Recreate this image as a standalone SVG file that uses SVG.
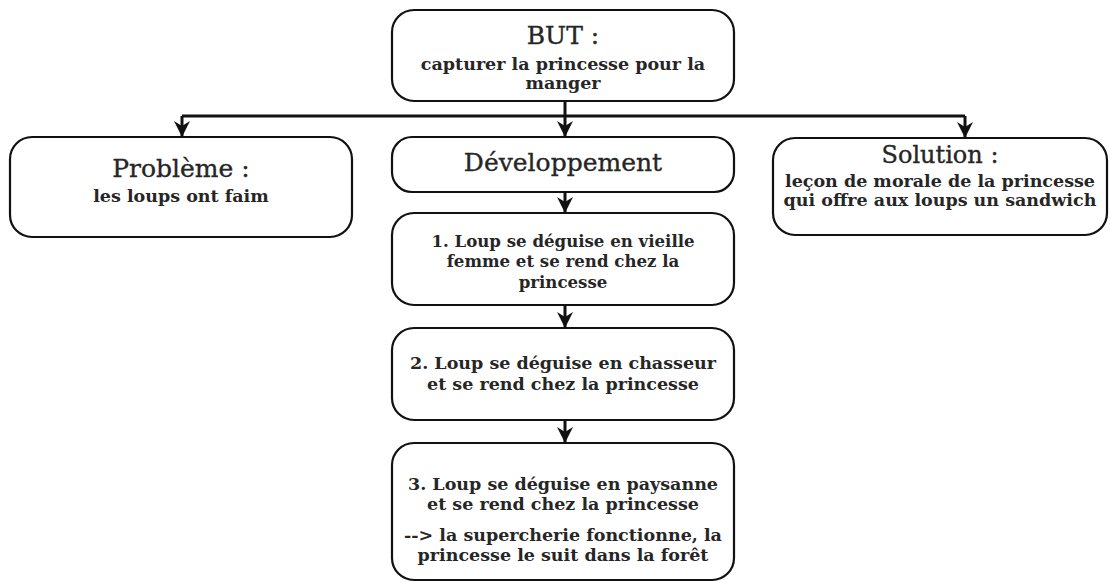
<svg xmlns="http://www.w3.org/2000/svg" width="1110" height="582" viewBox="0 0 1110 582">
<defs>
<marker id="arr" viewBox="0 0 16 16" refX="15" refY="8" markerWidth="16" markerHeight="16" markerUnits="userSpaceOnUse" orient="auto">
<path d="M0,0 L16,8 L0,16 L5,8 z" fill="#111"/>
</marker>
</defs>
<style>
.box{fill:#fff;stroke:#111;stroke-width:2.2}
.t{font-family:"DejaVu Serif","Liberation Serif",serif;fill:#262626;stroke:#262626;stroke-width:0.35;text-anchor:middle;font-size:25px}
.s{font-family:"DejaVu Serif","Liberation Serif",serif;fill:#262626;text-anchor:middle;font-size:17.5px;font-weight:bold}
.s1{font-size:16.6px}
.c{fill:none;stroke:#111;stroke-width:3}
</style>
<rect width="1110" height="582" fill="#fff"/>
<g id="connectors">
<path class="c" d="M182,116 H965"/>
<path class="c" d="M565,101 V136" marker-end="url(#arr)"/>
<path class="c" d="M182,116 V136" marker-end="url(#arr)"/>
<path class="c" d="M965,116 V137" marker-end="url(#arr)"/>
<path class="c" d="M565,192 V212" marker-end="url(#arr)"/>
<path class="c" d="M565,305 V327" marker-end="url(#arr)"/>
<path class="c" d="M565,420 V442" marker-end="url(#arr)"/>
</g>
<g id="but">
<rect class="box" x="392" y="10" width="342" height="91" rx="22"/>
<text class="t" x="563" y="44">BUT :</text>
<text class="s" x="563" y="70">capturer la princesse pour la</text>
<text class="s" x="563" y="89">manger</text>
</g>
<g id="probleme">
<rect class="box" x="10" y="137" width="342" height="100" rx="22"/>
<text class="t" x="181" y="177">Problème :</text>
<text class="s" x="181" y="202">les loups ont faim</text>
</g>
<g id="developpement">
<rect class="box" x="392" y="137" width="342" height="55" rx="20"/>
<text class="t" x="563" y="171">Développement</text>
</g>
<g id="solution">
<rect class="box" x="773" y="138" width="334" height="97" rx="22"/>
<text class="t" x="940" y="163" style="font-size:24px">Solution :</text>
<text class="s" x="940" y="187">leçon de morale de la princesse</text>
<text class="s" x="940" y="206">qui offre aux loups un sandwich</text>
</g>
<g id="etape1">
<rect class="box" x="392" y="213" width="342" height="92" rx="22"/>
<text class="s s1" x="563" y="247">1. Loup se déguise en vieille</text>
<text class="s s1" x="563" y="267">femme et se rend chez la</text>
<text class="s s1" x="563" y="288">princesse</text>
</g>
<g id="etape2">
<rect class="box" x="392" y="328" width="342" height="92" rx="22"/>
<text class="s" x="563" y="369">2. Loup se déguise en chasseur</text>
<text class="s" x="563" y="390">et se rend chez la princesse</text>
</g>
<g id="etape3">
<rect class="box" x="392" y="443" width="342" height="137" rx="22"/>
<text class="s" x="563" y="490">3. Loup se déguise en paysanne</text>
<text class="s" x="563" y="510">et se rend chez la princesse</text>
<text class="s" x="563" y="541">--&gt; la supercherie fonctionne, la</text>
<text class="s" x="563" y="561">princesse le suit dans la forêt</text>
</g>
</svg>
